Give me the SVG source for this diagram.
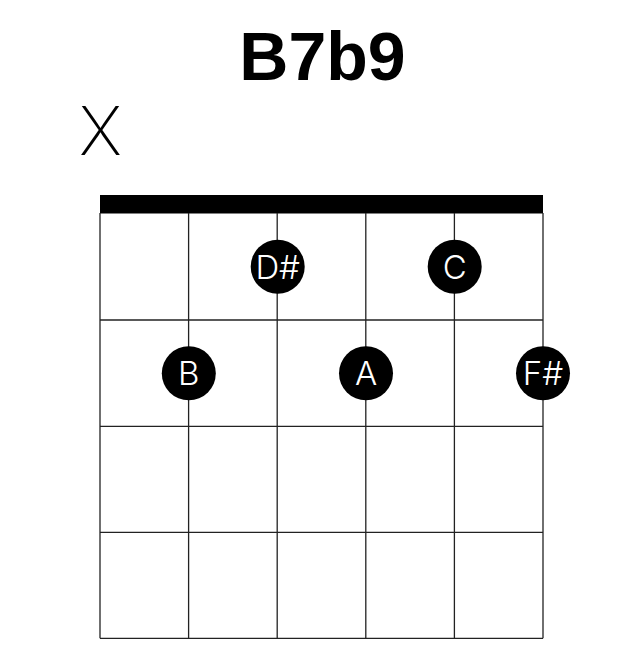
<svg xmlns="http://www.w3.org/2000/svg" width="644" height="656" viewBox="0 0 644 656">
<style>
.grid{stroke:#222;stroke-width:1.3;fill:none}
.dot{fill:#000}
.lbl{fill:#fff;font-family:Inter,"Open Sans","Liberation Sans",sans-serif;font-weight:300;font-size:33px;text-anchor:middle;dominant-baseline:central}
.title{font-family:"Liberation Sans",Arial,sans-serif;font-weight:bold;font-size:68px;text-anchor:middle}
.mute{font-family:Inter,"Open Sans","Liberation Sans",sans-serif;font-weight:200;font-size:67px;text-anchor:middle}
</style>
<rect width="644" height="656" fill="#fff"/>
<text class="title" x="322.5" y="80">B7b9</text>
<text class="mute" x="100.5" y="155">X</text>
<g id="fretboard">
<rect x="100" y="195" width="443" height="18.5" fill="#000"/>
<g class="grid">
<line x1="100" y1="213" x2="100" y2="638.3"/>
<line x1="188.6" y1="213" x2="188.6" y2="638.3"/>
<line x1="277.2" y1="213" x2="277.2" y2="638.3"/>
<line x1="365.8" y1="213" x2="365.8" y2="638.3"/>
<line x1="454.4" y1="213" x2="454.4" y2="638.3"/>
<line x1="543" y1="213" x2="543" y2="638.3"/>
<line x1="100" y1="320" x2="543" y2="320"/>
<line x1="100" y1="426.3" x2="543" y2="426.3"/>
<line x1="100" y1="532.3" x2="543" y2="532.3"/>
<line x1="100" y1="638.3" x2="543" y2="638.3"/>
</g>
</g>
<g id="note-Dsharp"><circle class="dot" cx="277.7" cy="266.7" r="27"/><text class="lbl" x="277.7" y="266.7">D#</text></g>
<g id="note-C"><circle class="dot" cx="454.7" cy="266.7" r="27"/><text class="lbl" x="454.7" y="266.7">C</text></g>
<g id="note-B"><circle class="dot" cx="188.8" cy="373.3" r="27"/><text class="lbl" x="188.8" y="373.3">B</text></g>
<g id="note-A"><circle class="dot" cx="366" cy="373.3" r="27"/><text class="lbl" x="366" y="373.3">A</text></g>
<g id="note-Fsharp"><circle class="dot" cx="543" cy="373.3" r="27"/><text class="lbl" x="543" y="373.3">F#</text></g>
</svg>
